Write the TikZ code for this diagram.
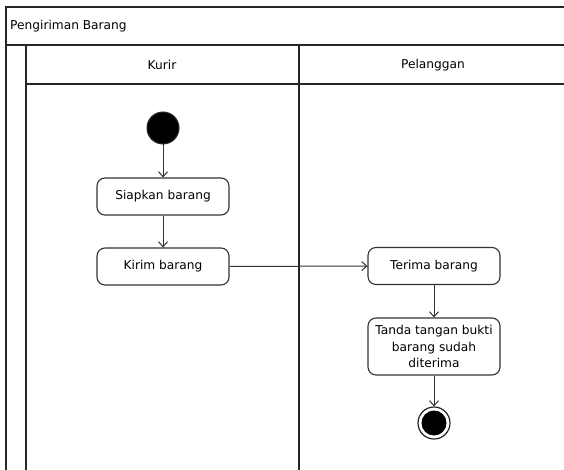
\documentclass[tikz,border=0pt]{standalone}
\usepackage{fontspec}
\setmainfont{DejaVu Sans}
\usetikzlibrary{arrows.meta}

\tikzset{
  lane/.style={draw=black!85, line width=1.3pt},
  action/.style={draw=black!80, line width=1.1pt, rounded corners=8pt, fill=white,
    minimum width=132pt, minimum height=37pt, align=center,
    font=\fontsize{12.2}{16.5}\selectfont, inner sep=1pt},
  label/.style={font=\fontsize{12.2}{14}\selectfont, inner sep=0pt},
  flow/.style={draw=black!80, line width=1pt, -{Straight Barb[length=5pt,width=9pt,line width=1pt]}},
}

\begin{document}
\begin{tikzpicture}[x=1pt, y=-1pt]
  \useasboundingbox (0,0) rectangle (564,470);

  % pool and swimlanes
  \draw[lane] (564,7) -- (6,7) -- (6,470);
  \draw[lane] (6,45) -- (564,45);
  \draw[lane] (26,45) -- (26,470);
  \draw[lane] (26,84) -- (564,84);
  \draw[lane] (299,45) -- (299,470);

  \node[label, anchor=west] (pool) at (10,26) {Pengiriman Barang};
  \node[label] (kurir) at (162,65) {Kurir};
  \node[label] (pelanggan) at (433,65) {Pelanggan};

  % start node
  \node[circle, fill=black, draw=black!85, line width=1pt, minimum size=32pt, inner sep=0pt] (start) at (163,128) {};

  % actions
  \node[action] (siapkan) at (163,196.5) {Siapkan barang};
  \node[action] (kirim) at (163,266.5) {Kirim barang};
  \node[action] (terima) at (434,266) {Terima barang};
  \node[action, minimum height=57pt] (tanda) at (434,346.5) {Tanda tangan bukti\\barang sudah\\diterima};

  % end node
  \node[circle, draw=black!85, line width=1.2pt, minimum size=32pt, inner sep=0pt] (end) at (434,423) {};
  \node[circle, fill=black, minimum size=25pt, inner sep=0pt] (endcore) at (end.center) {};

  % control flows
  \draw[flow] (start) -- (siapkan);
  \draw[flow] (siapkan) -- (kirim);
  \draw[flow] (kirim) -- (terima);
  \draw[flow] (terima) -- (tanda);
  \draw[flow] (tanda) -- (end);
\end{tikzpicture}
\end{document}
